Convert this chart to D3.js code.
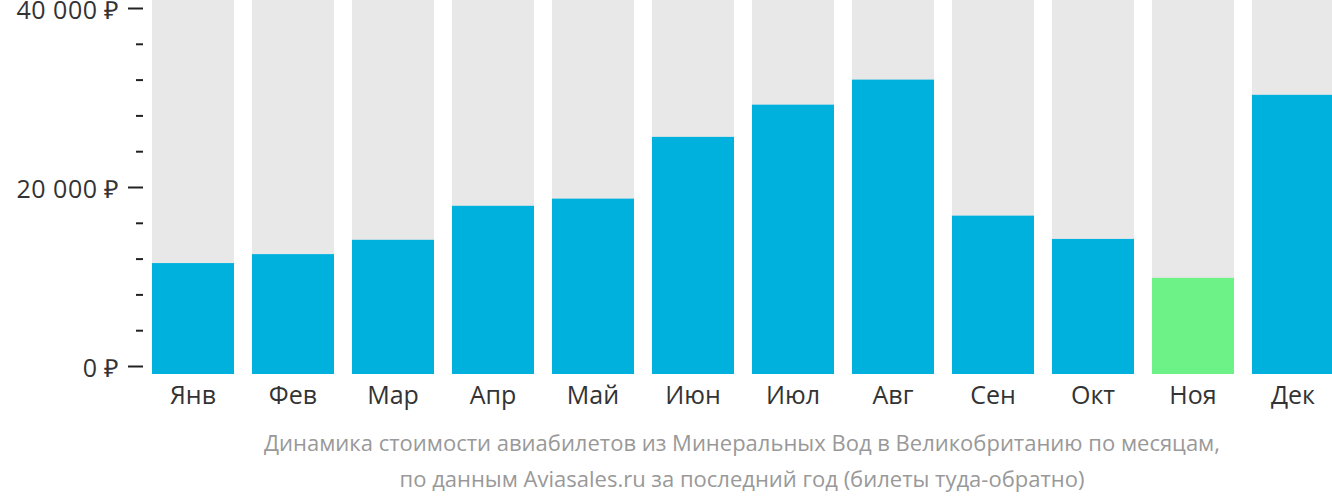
<!DOCTYPE html>
<html>
<head>
<meta charset="utf-8">
<script src="https://cdn.jsdelivr.net/npm/d3@7"></script>
<style>
  body { margin: 0; background: #fff; }
  svg { display: block; font-family: 'Open Sans', sans-serif; }
</style>
</head>
<body>
<div id="chart"></div>
<script>
const months = ['Янв', 'Фев', 'Мар', 'Апр', 'Май', 'Июн', 'Июл', 'Авг', 'Сен', 'Окт', 'Ноя', 'Дек'];
const prices = [11500, 12500, 14100, 17900, 18700, 25600, 29200, 32000, 16800, 14200, 9850, 30300];
const cheapestMonth = 'Ноя';
const majorTicks = [0, 20000, 40000];
const minorTicks = [4000, 8000, 12000, 16000, 24000, 28000, 32000, 36000];
const captionLines = [
  'Динамика стоимости авиабилетов из Минеральных Вод в Великобританию по месяцам,',
  'по данным Aviasales.ru за последний год (билеты туда-обратно)'
];

const width = 1332;
const height = 502;
const barBottom = 374;

const svg = d3.select('#chart')
  .append('svg')
  .attr('width', width)
  .attr('height', height);

const x = d3.scaleBand()
  .domain(months)
  .range([143, 1343])
  .paddingInner(0.18)
  .paddingOuter(0.09);

const y = d3.scaleLinear().domain([0, 40000]).range([366, 8]);

const fmt = v => `${d3.format(',')(v).replace(/,/g, ' ')} ₽`;

// background columns
svg.append('g')
  .selectAll('rect')
  .data(months)
  .join('rect')
  .attr('x', d => x(d))
  .attr('y', 0)
  .attr('width', x.bandwidth())
  .attr('height', barBottom)
  .attr('fill', '#e8e8e8');

// price bars
svg.append('g')
  .selectAll('rect')
  .data(prices)
  .join('rect')
  .attr('x', (d, i) => x(months[i]))
  .attr('y', d => y(d))
  .attr('width', x.bandwidth())
  .attr('height', d => barBottom - y(d))
  .attr('fill', (d, i) => (months[i] === cheapestMonth ? '#6cf287' : '#00b1dd'));

// y axis: major ticks with labels
const yAxis = svg.append('g')
  .attr('transform', 'translate(143,0)')
  .call(d3.axisLeft(y).tickValues(majorTicks).tickSize(15).tickPadding(8).tickFormat(fmt));
yAxis.select('.domain').remove();
yAxis.selectAll('line').attr('stroke', '#222').attr('stroke-width', 2);
yAxis.selectAll('text')
  .attr('fill', '#333')
  .attr('dy', '10px')
  .style('font-size', '25px')
  .style('letter-spacing', '0.5px')
  .style('font-family', "'Open Sans', sans-serif");

// minor ticks
const yMinor = svg.append('g')
  .attr('transform', 'translate(143,0)')
  .call(d3.axisLeft(y).tickValues(minorTicks).tickSize(7).tickFormat(''));
yMinor.select('.domain').remove();
yMinor.selectAll('line').attr('stroke', '#222').attr('stroke-width', 2);

// month labels
const xAxis = svg.append('g')
  .attr('transform', `translate(0,${barBottom})`)
  .call(d3.axisBottom(x).tickSize(0).tickPadding(12));
xAxis.select('.domain').remove();
xAxis.selectAll('text')
  .attr('fill', '#333')
  .style('font-size', '25px')
  .style('font-family', "'Open Sans', sans-serif");

// caption
svg.append('g')
  .selectAll('text')
  .data(captionLines)
  .join('text')
  .attr('x', 742)
  .attr('y', (d, i) => 451 + i * 36)
  .attr('text-anchor', 'middle')
  .attr('fill', '#999')
  .style('font-size', '22px')
  .text(d => d);
</script>
</body>
</html>
